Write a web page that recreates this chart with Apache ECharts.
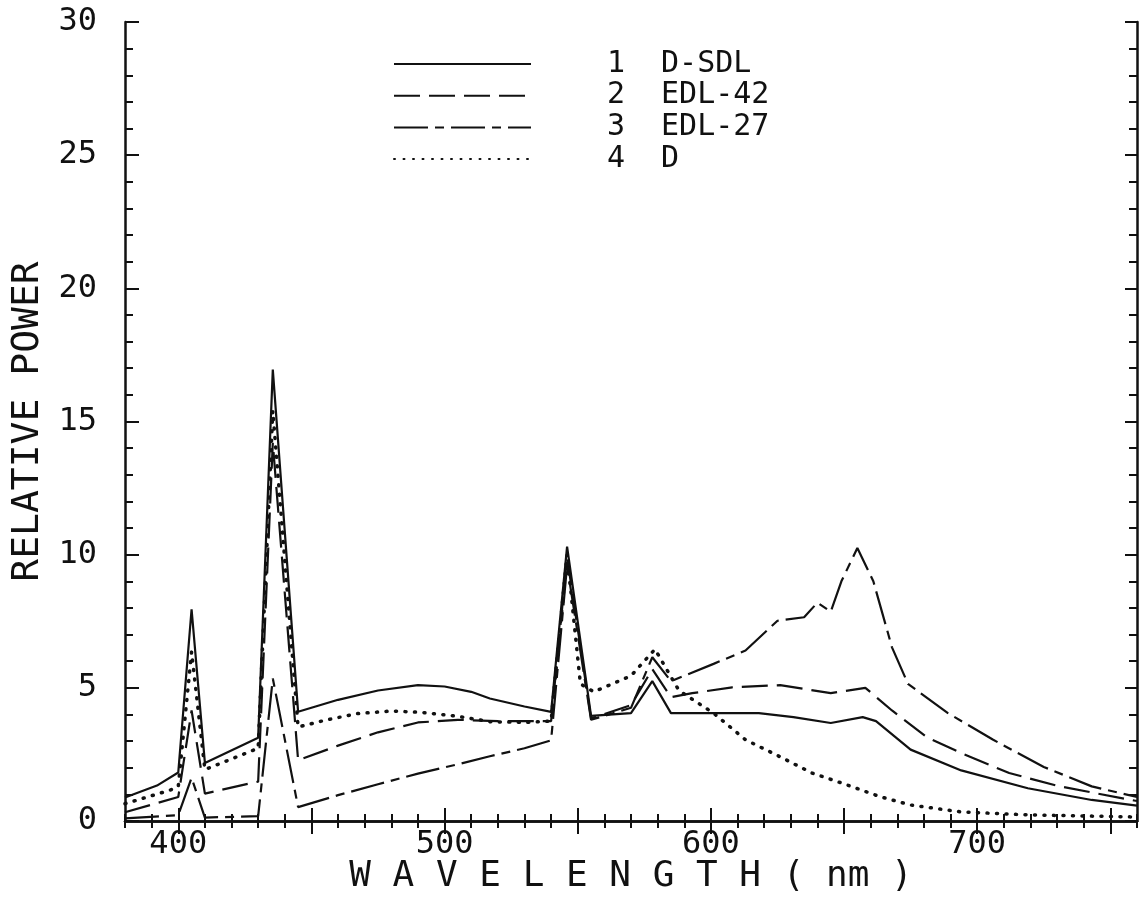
<!DOCTYPE html>
<html><head><meta charset="utf-8">
<script src="https://cdn.jsdelivr.net/npm/echarts@6/dist/echarts.min.js"></script>
<style>html,body{margin:0;padding:0;background:#fff}#c{width:1145px;height:900px}</style>
</head><body><div id="c"></div>
<script>
const seriesNames = ['D-SDL', 'EDL-42', 'EDL-27', 'D'];

const sdlX = [380, 392, 400, 405, 410, 430, 435.5, 445, 460, 475, 490, 500, 510, 517, 530, 540, 546, 555, 570, 578, 585, 600, 618, 631, 645, 657, 662, 675, 694, 719, 743, 760];
const sdlY = [0.88, 1.33, 1.82, 7.95, 2.18, 3.13, 16.95, 4.1, 4.55, 4.9, 5.1, 5.05, 4.85, 4.6, 4.3, 4.1, 10.3, 3.95, 4.05, 5.25, 4.05, 4.05, 4.05, 3.9, 3.68, 3.9, 3.75, 2.68, 1.9, 1.23, 0.79, 0.58];

const edl42X = [380, 400, 405, 410, 430, 435.5, 445, 460, 475, 490, 505, 520, 540, 546, 555, 570, 578, 585, 593, 608, 626, 645, 658, 668, 681, 694, 712, 731, 760];
const edl42Y = [0.33, 0.9, 4.15, 1.03, 1.48, 14.2, 2.28, 2.83, 3.33, 3.7, 3.8, 3.75, 3.75, 9.9, 3.85, 4.35, 5.7, 4.65, 4.8, 5.02, 5.1, 4.8, 5.0, 4.15, 3.15, 2.55, 1.8, 1.3, 0.75];

const edl27X = [380, 400, 405, 410, 430, 435.5, 445, 460, 475, 490, 505, 517, 530, 540, 546, 555, 570, 578, 585, 601, 613, 625, 635, 640, 645, 649, 655, 661, 668, 674, 689, 706, 725, 743, 760];
const edl27Y = [0.1, 0.22, 1.62, 0.13, 0.18, 5.35, 0.52, 0.97, 1.38, 1.78, 2.13, 2.43, 2.73, 3.03, 9.6, 3.8, 4.25, 6.15, 5.25, 5.9, 6.4, 7.52, 7.65, 8.2, 7.86, 9.0, 10.25, 9.0, 6.52, 5.15, 4.05, 3.05, 2.03, 1.3, 0.9];

const dX = [380, 397, 400, 405, 410, 430, 435.5, 445, 455, 467, 480, 491, 505, 517, 530, 540, 546, 551, 556, 570, 579, 588, 601, 613, 626, 638, 651, 663, 675, 694, 719, 760];
const dY = [0.65, 1.16, 1.3, 6.35, 1.93, 2.73, 15.4, 3.53, 3.78, 4.03, 4.13, 4.08, 3.93, 3.73, 3.7, 3.75, 10.0, 5.15, 4.85, 5.45, 6.45, 4.9, 4.05, 3.05, 2.41, 1.8, 1.36, 0.93, 0.6, 0.34, 0.23, 0.15];

const xMajorTicks = [400, 450, 500, 550, 600, 650, 700, 750];
const xTickLabels = [400, 500, 600, 700];
const yTickLabels = [0, 5, 10, 15, 20, 25, 30];

const FONT = 'DejaVu Sans Mono';
const INK = '#111';

function pairs(xs, ys) { return xs.map((x, i) => [x, ys[i]]); }

const baseX = { type: 'value', min: 380, max: 760, splitLine: { show: false } };
const baseY = { type: 'value', min: 0, max: 30, splitLine: { show: false } };
const axLine = { show: true, lineStyle: { color: INK, width: 2.5 } };

const chart = echarts.init(document.getElementById('c'));
chart.setOption({
  animation: false,
  backgroundColor: '#fff',
  grid: { left: 125, right: 8, top: 22, bottom: 79, containLabel: false },
  xAxis: [
    Object.assign({}, baseX, { position: 'bottom', interval: 10, axisLine: axLine,
      axisTick: { inside: true, length: 7, lineStyle: { color: INK, width: 2 } },
      axisLabel: { show: false },
      name: 'W A V E L E N G T H ( nm )', nameLocation: 'middle', nameGap: 38,
      nameTextStyle: { fontFamily: FONT, fontSize: 36, color: INK, verticalAlign: 'top' } }),
    Object.assign({}, baseX, { position: 'bottom', axisLine: { show: false },
      axisTick: { inside: true, length: 13, customValues: xMajorTicks, lineStyle: { color: INK, width: 2 } },
      axisLabel: { customValues: xTickLabels, fontFamily: FONT, fontSize: 32, color: INK, margin: 8 } }),
    Object.assign({}, baseX, { position: 'top', interval: 10, axisLine: axLine,
      axisTick: { inside: true, length: 7, lineStyle: { color: INK, width: 2 } },
      axisLabel: { show: false } }),
    Object.assign({}, baseX, { position: 'top', axisLine: { show: false },
      axisTick: { inside: true, length: 13, customValues: xMajorTicks, lineStyle: { color: INK, width: 2 } },
      axisLabel: { show: false } })
  ],
  yAxis: [
    Object.assign({}, baseY, { position: 'left', interval: 1, axisLine: axLine,
      axisTick: { inside: true, length: 8, lineStyle: { color: INK, width: 2 } },
      axisLabel: { show: false } }),
    Object.assign({}, baseY, { position: 'left', interval: 5, axisLine: { show: false },
      axisTick: { inside: true, length: 14, lineStyle: { color: INK, width: 2 } },
      axisLabel: { customValues: yTickLabels, fontFamily: FONT, fontSize: 32, color: INK, margin: 28 },
      name: 'RELATIVE POWER', nameLocation: 'middle', nameGap: 77,
      nameTextStyle: { fontFamily: FONT, fontSize: 38, color: INK } }),
    Object.assign({}, baseY, { position: 'right', interval: 1, axisLine: axLine,
      axisTick: { inside: true, length: 8, lineStyle: { color: INK, width: 2 } },
      axisLabel: { show: false } }),
    Object.assign({}, baseY, { position: 'right', interval: 5, axisLine: { show: false },
      axisTick: { inside: true, length: 12, lineStyle: { color: INK, width: 2 } },
      axisLabel: { show: false } })
  ],
  legend: {
    left: 388, top: 44, orient: 'vertical',
    itemWidth: 137, itemHeight: 22, itemGap: 1.7,
    data: seriesNames,
    itemStyle: { color: 'rgba(0,0,0,0)', borderWidth: 0, opacity: 0 },
    formatter: function (name) { return '{n|' + (seriesNames.indexOf(name) + 1) + '}{t|' + name + '}'; },
    textStyle: {
      rich: {
        n: { fontFamily: FONT, fontSize: 30, color: INK, lineHeight: 22, padding: [0, 0, 0, 71] },
        t: { fontFamily: FONT, fontSize: 30, color: INK, lineHeight: 22, padding: [0, 0, 0, 36] }
      }
    }
  },
  series: [
    { name: seriesNames[0], type: 'line', data: pairs(sdlX, sdlY), symbol: 'none', showSymbol: false,
      itemStyle: { color: INK }, lineStyle: { color: INK, width: 2.2, type: 'solid' } },
    { name: seriesNames[1], type: 'line', data: pairs(edl42X, edl42Y), symbol: 'none', showSymbol: false,
      itemStyle: { color: INK }, lineStyle: { color: INK, width: 2.2, type: [26, 9] } },
    { name: seriesNames[2], type: 'line', data: pairs(edl27X, edl27Y), symbol: 'none', showSymbol: false,
      itemStyle: { color: INK }, lineStyle: { color: INK, width: 2.2, type: [34, 7, 9, 7] } },
    { name: seriesNames[3], type: 'line', data: pairs(dX, dY), symbol: 'none', showSymbol: false,
      itemStyle: { color: INK }, lineStyle: { color: INK, width: 3.5, type: [1, 8.5], cap: 'round' } }
  ]
});
</script></body></html>
